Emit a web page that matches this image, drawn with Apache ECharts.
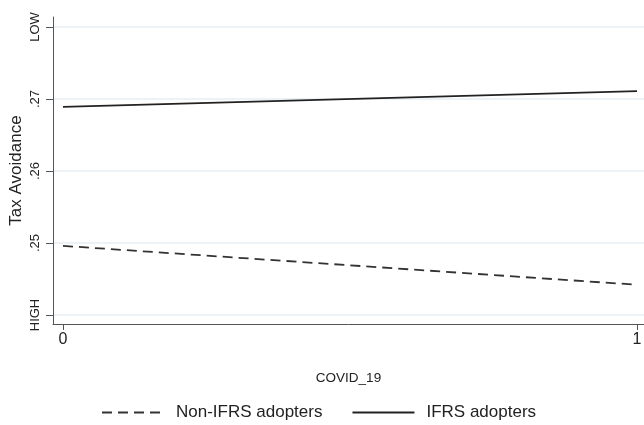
<!DOCTYPE html>
<html>
<head>
<meta charset="utf-8">
<script src="https://cdn.jsdelivr.net/npm/echarts@6/dist/echarts.min.js"></script>
<style>
html,body{margin:0;padding:0;background:#fff;}
#main{width:644px;height:425px;}
</style>
</head>
<body>
<div id="main"></div>
<script>
// data
var covid = [0, 1];
var nonIfrs = [0.2496, 0.2442];
var ifrs = [0.2689, 0.2711];
var yTicks = [0.24, 0.25, 0.26, 0.27, 0.28];
var yTickLabels = ['HIGH', '.25', '.26', '.27', 'LOW'];
var xTicks = [0, 1];

var chart = echarts.init(document.getElementById('main'));

function pairs(ys) {
    var out = [];
    for (var i = 0; i < covid.length; i++) out.push([covid[i], ys[i]]);
    return out;
}

var option = {
    backgroundColor: '#fff',
    animation: false,
    grid: { left: 53, right: 0, top: 17, bottom: 101, outerBoundsMode: 'none', containLabel: false },
    legend: {
        top: 399,
        left: 96,
        itemGap: 29,
        itemWidth: 62,
        itemHeight: 10,
        itemStyle: { opacity: 0 },
        textStyle: { fontFamily: 'Liberation Sans', fontSize: 17, color: '#222', padding: [0, 0, 0, 7] },
        data: ['Non-IFRS adopters', 'IFRS adopters']
    },
    xAxis: {
        type: 'value',
        min: -0.0174,
        max: 1.0122,
        name: 'COVID_19',
        nameLocation: 'middle',
        nameGap: 47,
        nameMoveOverlap: false,
        nameTextStyle: { fontFamily: 'Liberation Sans', fontSize: 13.5, color: '#222' },
        axisLine: { show: true, onZero: false, lineStyle: { color: '#555', width: 1 } },
        axisTick: { show: true, customValues: xTicks, length: 6, lineStyle: { color: '#555' } },
        axisLabel: {
            customValues: xTicks,
            fontFamily: 'Liberation Sans', fontSize: 16, color: '#222', margin: 8
        },
        splitLine: { show: false }
    },
    yAxis: {
        type: 'value',
        min: 0.23875,
        max: 0.28139,
        name: 'Tax Avoidance',
        nameLocation: 'middle',
        nameGap: 28,
        nameMoveOverlap: false,
        nameRotate: 90,
        nameTextStyle: { fontFamily: 'Liberation Sans', fontSize: 17, color: '#222' },
        axisLine: { show: true, onZero: false, lineStyle: { color: '#555', width: 1 } },
        axisTick: { show: true, customValues: yTicks, length: 7, lineStyle: { color: '#555' } },
        axisLabel: {
            customValues: yTicks,
            rotate: 90,
            margin: 11,
            fontFamily: 'Liberation Sans', fontSize: 13, color: '#222',
            formatter: function (v) {
                for (var i = 0; i < yTicks.length; i++) {
                    if (Math.abs(v - yTicks[i]) < 1e-6) return yTickLabels[i];
                }
                return '';
            }
        },
        splitLine: { show: true, customValues: yTicks, lineStyle: { color: '#e6eef2', width: 1.5 } }
    },
    series: [
        {
            name: 'Non-IFRS adopters',
            type: 'line',
            symbol: 'none',
            data: pairs(nonIfrs),
            lineStyle: { color: '#333', width: 1.8, type: [10, 6] },
            itemStyle: { color: '#333' }
        },
        {
            name: 'IFRS adopters',
            type: 'line',
            symbol: 'none',
            data: pairs(ifrs),
            lineStyle: { color: '#222', width: 1.8, type: 'solid' },
            itemStyle: { color: '#222' }
        }
    ]
};
chart.setOption(option);
</script>
</body>
</html>
